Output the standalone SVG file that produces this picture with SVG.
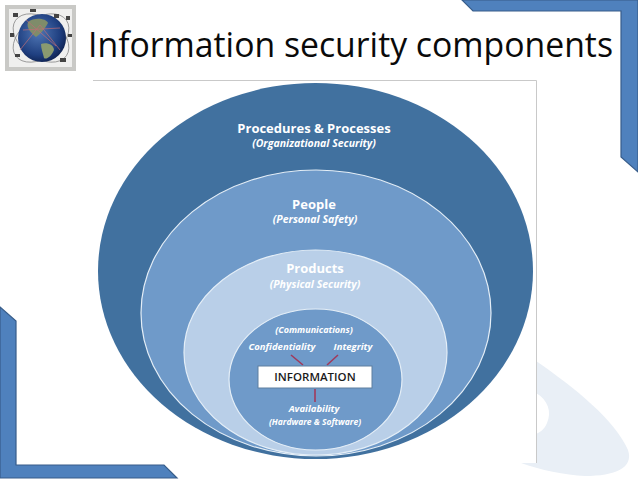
<svg xmlns="http://www.w3.org/2000/svg" width="638" height="479" viewBox="0 0 638 479">
<defs>
<radialGradient id="globe" cx="0.42" cy="0.4" r="0.65"><stop offset="0" stop-color="#4f76b4"/><stop offset="0.7" stop-color="#1f3f80"/><stop offset="1" stop-color="#0d1f4c"/></radialGradient>
</defs>
<style>
.corner{fill:#4f81bd;stroke:#385d8a;stroke-width:1.2}
.w{font-family:"Open Sans","Liberation Sans",sans-serif;fill:#fff;font-weight:700;text-anchor:middle}
.i{font-style:italic}
.ring{stroke:#e4eef7;stroke-width:1.2}
.rl{stroke:#a03a5c;stroke-width:1.6;fill:none}
</style>
<rect width="638" height="479" fill="#fff"/>
<g id="decor-swoosh">
<path d="M536 361C575 388 615 420 628 450C634 468 615 476 585 476C565 475 540 470 521 463L536 463Z" fill="#e9eff6"/>
<path d="M536 393C548 400 552 412 547 423C544 430 540 432 536 434Z" fill="#fff"/>
</g>
<g id="corner-top-right"><path class="corner" d="M462 0L638 0L638 172L621 157L621 11L473 11Z"/></g>
<g id="corner-bottom-left"><path class="corner" d="M0 307L16 321L16 465L164 465L177 478L0 478Z"/></g>
<g id="logo">
<rect x="5" y="5" width="71" height="66" fill="#c9c9c6"/>
<rect x="9" y="9" width="63" height="58" fill="#efefee"/>
<g fill="none" stroke="#8f8f8f" stroke-width="0.8"><ellipse cx="41" cy="38" rx="31" ry="20" transform="rotate(35 41 38)"/><ellipse cx="41" cy="38" rx="31" ry="20" transform="rotate(-35 41 38)"/></g>
<circle cx="42" cy="38" r="24" fill="url(#globe)"/>
<path d="M28 22C34 17 46 18 48 23C45 29 40 34 36 37C31 33 26 28 28 22Z" fill="#7f8c6a"/>
<path d="M41 44C47 42 54 45 54 50C51 57 46 60 44 58C43 53 41 49 41 44Z" fill="#8a9a70"/>
<g fill="none" stroke="#c06d75" stroke-width="0.7"><path d="M20 50L40 25L60 50M26 20L56 46M23 30L60 28"/></g>
<g fill="#444"><rect x="13" y="13" width="5" height="4"/><rect x="30" y="9" width="6" height="3"/><rect x="54" y="14" width="5" height="4"/><rect x="66" y="16" width="4" height="4"/><rect x="10" y="33" width="4" height="4"/><rect x="68" y="34" width="4" height="3"/><rect x="15" y="54" width="5" height="3"/><rect x="60" y="58" width="6" height="4"/></g>
</g>
<g id="title"><text x="88" y="57" font-family="Open Sans,Liberation Sans,sans-serif" font-size="35" fill="#0a0a0a" textLength="525" lengthAdjust="spacingAndGlyphs">Information security components</text></g>
<g id="panel"><path d="M93 80.500L536.500 80.500L536.500 463" fill="none" stroke="#c9c9c9" stroke-width="1"/></g>
<g id="ring-procedures">
<ellipse cx="315.500" cy="271" rx="217.500" ry="188" fill="#41719f"/>
<text class="w" x="314" y="133" font-size="13">Procedures &amp; Processes</text>
<text class="w i" x="314" y="147" font-size="10.500">(Organizational Security)</text>
</g>
<g id="ring-people">
<ellipse class="ring" cx="316" cy="313" rx="175" ry="143" fill="#6f9ac9"/>
<text class="w" x="314" y="209" font-size="13">People</text>
<text class="w i" x="315" y="223" font-size="10.500">(Personal Safety)</text>
</g>
<g id="ring-products">
<ellipse class="ring" cx="315.500" cy="352.500" rx="131.500" ry="102.500" fill="#b9cfe8"/>
<text class="w" x="315" y="273" font-size="13">Products</text>
<text class="w i" x="315" y="288" font-size="10.500">(Physical Security)</text>
</g>
<g id="ring-information">
<ellipse class="ring" cx="315.500" cy="379.500" rx="86.500" ry="70.500" fill="#6f9ac9"/>
<text class="w i" x="314" y="333" font-size="9">(Communications)</text>
<text class="w i" x="282" y="350" font-size="9.500">Confidentiality</text>
<text class="w i" x="353" y="350" font-size="9.500">Integrity</text>
<text class="w i" x="314" y="412" font-size="9.500">Availability</text>
<text class="w i" x="315" y="425" font-size="8.500">(Hardware &amp; Software)</text>
</g>
<g id="connectors">
<path class="rl" d="M291 355L303 365M338 355L327 365M315 389L315 402"/>
</g>
<g id="node-information">
<rect x="258" y="366" width="114" height="22" fill="#fff" stroke="#5f7f9f" stroke-width="1"/>
<text x="315" y="381" font-family="Open Sans,Liberation Sans,sans-serif" font-size="11.500" font-weight="600" fill="#1a1a1a" text-anchor="middle">INFORMATION</text>
</g>
</svg>
